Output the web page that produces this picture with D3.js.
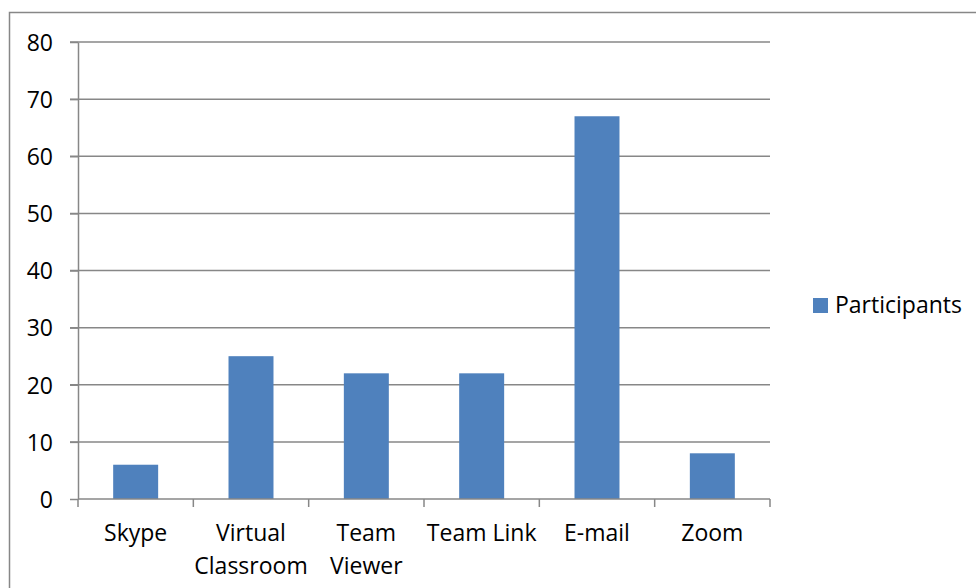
<!DOCTYPE html>
<html>
<head>
    <meta charset="utf-8">
    <title>Participants</title>
    <script src="https://cdnjs.cloudflare.com/ajax/libs/d3/7.8.5/d3.min.js"></script>
    <style>
        body { margin: 0; background: #fff; }
        svg { display: block; font-family: "Open Sans", "Noto Sans", sans-serif; }
        .grid line { stroke: #878787; stroke-width: 1.5px; }
        .axis path, .axis line { stroke: #878787; stroke-width: 1.5px; }
        .axis text { fill: #000; font-size: 23px; font-family: "Open Sans", "Noto Sans", sans-serif; }
    </style>
</head>
<body>
<div id="chart"></div>
<script>
    // data
    const categories = [["Skype"], ["Virtual", "Classroom"], ["Team", "Viewer"], ["Team Link"], ["E-mail"], ["Zoom"]];
    const participants = [6, 25, 22, 22, 67, 8];
    const yTicks = [0, 10, 20, 30, 40, 50, 60, 70, 80];
    const seriesName = "Participants";

    const W = 976, H = 588;
    const plot = { left: 78, right: 770, top: 42, bottom: 499 };

    const svg = d3.select("#chart").append("svg")
        .attr("width", W)
        .attr("height", H);

    // outer chart border (runs off the right and bottom edges)
    svg.append("rect")
        .attr("x", 9.5).attr("y", 12.5)
        .attr("width", 1000).attr("height", 700)
        .attr("fill", "none")
        .attr("stroke", "#878787")
        .attr("stroke-width", 1.5);

    const keys = categories.map(c => c.join(" "));

    const x = d3.scaleBand()
        .domain(keys)
        .range([plot.left, plot.right])
        .paddingInner(0.61)
        .paddingOuter(0.305);

    const y = d3.scaleLinear()
        .domain([0, 80])
        .range([plot.bottom, plot.top]);

    // gridlines
    svg.append("g")
        .attr("class", "grid")
        .selectAll("line")
        .data(yTicks.filter(d => d > 0))
        .join("line")
        .attr("x1", plot.left - 8).attr("x2", plot.right)
        .attr("y1", d => y(d)).attr("y2", d => y(d));

    // y axis
    const yAxis = svg.append("g")
        .attr("class", "axis")
        .attr("transform", `translate(${plot.left},0)`)
        .call(d3.axisLeft(y).tickValues(yTicks).tickSize(8).tickPadding(17).tickSizeOuter(0));
    yAxis.selectAll("text").attr("dy", "0.36em");

    // bars
    svg.append("g")
        .selectAll("rect")
        .data(participants)
        .join("rect")
        .attr("x", (d, i) => x(keys[i]))
        .attr("y", d => y(d))
        .attr("width", x.bandwidth())
        .attr("height", d => y(0) - y(d))
        .attr("fill", "#4f81bd");

    // x axis: ticks at category boundaries
    const step = x.step();
    const boundaries = d3.range(keys.length + 1).map(i => plot.left + i * step);
    const xAxis = svg.append("g").attr("class", "axis");
    xAxis.append("line")
        .attr("x1", plot.left).attr("x2", plot.right)
        .attr("y1", y(0)).attr("y2", y(0));
    xAxis.selectAll("line.tick")
        .data(boundaries)
        .join("line")
        .attr("class", "tick")
        .attr("x1", d => d).attr("x2", d => d)
        .attr("y1", y(0)).attr("y2", y(0) + 8);

    const labels = xAxis.selectAll("text")
        .data(categories)
        .join("text")
        .attr("text-anchor", "middle")
        .attr("x", (d, i) => x(keys[i]) + x.bandwidth() / 2)
        .attr("y", 541);
    labels.selectAll("tspan")
        .data(d => d)
        .join("tspan")
        .attr("x", function () { return this.parentNode.getAttribute("x"); })
        .attr("dy", (d, i) => i === 0 ? 0 : 33)
        .text(d => d);

    // legend
    const legend = svg.append("g").attr("transform", "translate(813,298)");
    legend.append("rect")
        .attr("width", 15).attr("height", 15)
        .attr("fill", "#4f81bd");
    legend.append("text")
        .attr("x", 22).attr("y", 15)
        .attr("font-size", 23)
        .text(seriesName);
</script>
</body>
</html>
